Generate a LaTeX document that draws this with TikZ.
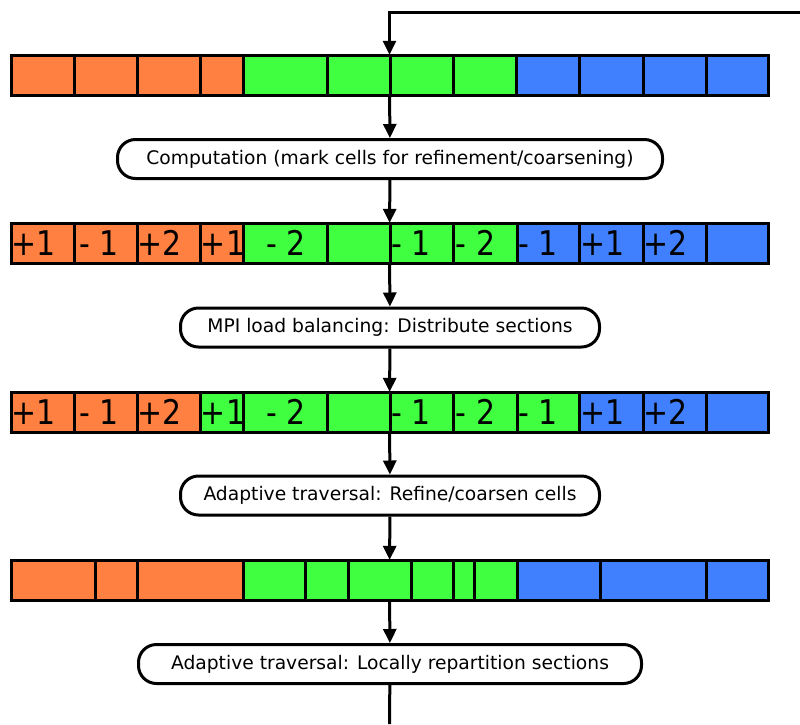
\documentclass[tikz,border=0pt]{standalone}
\usepackage{fontspec}
\setmainfont{DejaVu Sans}
\usetikzlibrary{arrows.meta}
\definecolor{cellorange}{RGB}{255,128,64}
\definecolor{cellgreen}{RGB}{64,255,64}
\definecolor{cellblue}{RGB}{64,128,255}
\tikzset{
 cell/.style={draw=black, line width=3pt},
 celllabel/.style={anchor=base west, inner sep=1pt, font=\fontsize{34}{34}\selectfont},
 bar/.style={minimum width=757pt, minimum height=40pt, inner sep=0pt},
 stage/.style={draw, line width=3pt, rounded corners=18pt, minimum height=39pt, fill=white, font=\fontsize{18.7}{22}\selectfont},
 flow/.style={line width=3pt, -{Triangle[length=14pt,width=13pt]}}
}
\begin{document}
\begin{tikzpicture}[x=1pt, y=-1pt]
 \useasboundingbox (0,0) rectangle (800,724);
 \foreach \a/\b/\c in {11/74/cellorange, 74/137/cellorange, 137/200/cellorange, 200/243/cellorange,
  243/327/cellgreen, 327/390/cellgreen, 390/453/cellgreen, 453/516/cellgreen,
  516/579/cellblue, 579/643/cellblue, 643/706/cellblue, 706/768/cellblue}
  \draw[cell, fill=\c] (\a,55) rectangle (\b,95);
 \foreach \a/\b/\c in {11/74/cellorange, 74/137/cellorange, 137/200/cellorange, 200/243/cellorange,
  243/327/cellgreen, 327/390/cellgreen, 390/453/cellgreen, 453/517/cellgreen,
  517/579/cellblue, 579/643/cellblue, 643/706/cellblue, 706/768/cellblue}
  \draw[cell, fill=\c] (\a,223) rectangle (\b,263);
 \foreach \a/\b/\c in {11/74/cellorange, 74/137/cellorange, 137/200/cellorange,
  200/243/cellgreen, 243/327/cellgreen, 327/390/cellgreen, 390/453/cellgreen, 453/517/cellgreen, 517/579/cellgreen,
  579/643/cellblue, 643/706/cellblue, 706/768/cellblue}
  \draw[cell, fill=\c] (\a,392) rectangle (\b,432);
 \foreach \a/\b/\c in {11/95/cellorange, 95/137/cellorange, 137/243/cellorange,
  243/305/cellgreen, 305/348/cellgreen, 348/411/cellgreen, 411/453/cellgreen, 453/474/cellgreen, 474/517/cellgreen,
  517/600/cellblue, 600/706/cellblue, 706/768/cellblue}
  \draw[cell, fill=\c] (\a,560) rectangle (\b,600);

 \foreach \k/\t/\s in {0/+1/0, 1/- 1/5, 2/+2/0, 3/+1/0, 4/- 2/2, 6/- 1/1, 7/- 2/2, 8/- 1/1, 9/+1/0, 10/+2/0}{
  \node[celllabel] (ma-\k) at (10+63.25*\k+\s,255) {\scalebox{0.88}[1]{\t}};
  \node[celllabel] (mb-\k) at (10+63.25*\k+\s,424) {\scalebox{0.88}[1]{\t}};
 }

 \node[bar] (r1) at (389.5,75) {};
 \node[bar] (r2) at (389.5,243) {};
 \node[bar] (r3) at (389.5,412) {};
 \node[bar] (r4) at (389.5,580) {};

 \node[stage, minimum width=545pt] (c1) at (390,159) {Computation (mark cells for refinement/coarsening)};
 \node[stage, minimum width=419pt] (c2) at (390,327.5) {MPI load balancing: Distribute sections};
 \node[stage, minimum width=419pt] (c3) at (390,495.5) {Adaptive traversal: Refine/coarsen cells};
 \node[stage, minimum width=503pt] (c4) at (390,664) {Adaptive traversal: Locally repartition sections};

 \coordinate (loopin) at (800,12);
 \coordinate (loopout) at (389.5,724);
 \draw[flow] (loopin) -| (r1);
 \draw[flow] (r1) -- (c1);
 \draw[flow] (c1) -- (r2);
 \draw[flow] (r2) -- (c2);
 \draw[flow] (c2) -- (r3);
 \draw[flow] (r3) -- (c3);
 \draw[flow] (c3) -- (r4);
 \draw[flow] (r4) -- (c4);
 \draw[line width=3pt] (c4) -- (loopout);
\end{tikzpicture}
\end{document}
